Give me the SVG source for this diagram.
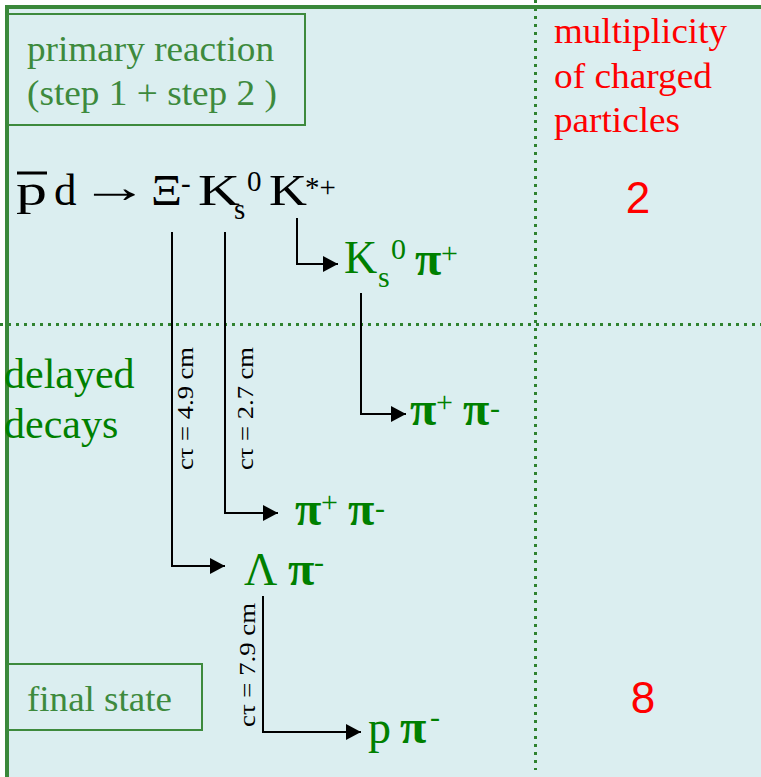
<svg xmlns="http://www.w3.org/2000/svg" width="761" height="777" viewBox="0 0 761 777">
<style>
.lbl{font-family:"Liberation Serif","Times New Roman",serif;fill:#3d8a3d;font-size:36px}
.red{font-family:"Liberation Serif","Times New Roman",serif;fill:#ff0000;font-size:36px}
.num{font-family:"Liberation Sans",Arial,sans-serif;fill:#ff0000;font-size:44px;text-anchor:middle}
.blk{font-family:"Liberation Serif","Times New Roman",serif;fill:#000;font-size:45px}
.bsm{font-family:"Liberation Serif","Times New Roman",serif;fill:#000;font-size:29px}
.grn{font-family:"Liberation Serif","Times New Roman",serif;fill:#008000;font-size:46px}
.gsm{font-family:"Liberation Serif","Times New Roman",serif;fill:#008000;font-size:30px}
.pi{font-family:"Liberation Serif","Times New Roman",serif;fill:#008000;font-size:48px;font-weight:bold}
.ct{font-family:"Liberation Serif","Times New Roman",serif;fill:#000;font-size:24px;text-anchor:middle}
.box{fill:none;stroke:#3d8a3d;stroke-width:2}
.dot{stroke:#2f822f;stroke-width:3;stroke-dasharray:3 5;fill:none;shape-rendering:crispEdges}
.con{fill:none;stroke:#000;stroke-width:2}
</style>
<defs>
<marker id="ah" markerWidth="16" markerHeight="16" refX="15" refY="8" orient="auto" markerUnits="userSpaceOnUse">
<path d="M0,0 L15,8 L0,16 Z" fill="#000"/>
</marker>
</defs>
<rect x="0" y="0" width="761" height="777" fill="#ffffff"/>
<rect x="6" y="7" width="755" height="770" fill="#dbeef0"/>
<g id="grid">
<line class="dot" x1="535.5" y1="0" x2="535.5" y2="770"/>
<line class="dot" x1="0" y1="324.5" x2="761" y2="324.5"/>
</g>
<line x1="5" y1="7" x2="761" y2="7" stroke="#3a883a" stroke-width="4"/>
<line x1="7" y1="5" x2="7" y2="777" stroke="#3a883a" stroke-width="4"/>
<g id="primary-box">
<rect class="box" x="8" y="14" width="297" height="111"/>
<text class="lbl" x="27" y="61" textLength="247" lengthAdjust="spacingAndGlyphs">primary reaction</text>
<text class="lbl" x="27" y="105" textLength="250" lengthAdjust="spacingAndGlyphs">(step 1 + step 2 )</text>
</g>
<g id="multiplicity">
<text class="red" x="554" y="43" textLength="173" lengthAdjust="spacingAndGlyphs">multiplicity</text>
<text class="red" x="554" y="88" textLength="158" lengthAdjust="spacingAndGlyphs">of charged</text>
<text class="red" x="554" y="132" textLength="126" lengthAdjust="spacingAndGlyphs">particles</text>
<text class="num" x="638" y="213">2</text>
<text class="num" x="643" y="713">8</text>
</g>
<g id="reaction">
<line x1="17" y1="173" x2="47" y2="173" stroke="#000" stroke-width="3"/>
<text class="blk" x="16" y="205" textLength="31" lengthAdjust="spacingAndGlyphs">p</text>
<text class="blk" x="54" y="205">d</text>
<text class="blk" x="80" y="202" textLength="69" lengthAdjust="spacingAndGlyphs">→</text>
<text class="blk" x="151" y="205" textLength="31" lengthAdjust="spacingAndGlyphs">Ξ</text>
<text class="bsm" x="181" y="193">-</text>
<text class="blk" x="198" y="205" textLength="42" lengthAdjust="spacingAndGlyphs">K</text>
<text class="bsm" x="234" y="219">s</text>
<text class="bsm" x="247" y="191">0</text>
<text class="blk" x="269" y="205" textLength="38" lengthAdjust="spacingAndGlyphs">K</text>
<text class="bsm" x="305" y="197">*+</text>
</g>
<g id="delayed">
<text class="grn" x="4" y="388" style="font-size:42px">delayed</text>
<text class="grn" x="4" y="438" style="font-size:42px">decays</text>
</g>
<g id="final-box">
<rect class="box" x="8" y="664" width="194" height="66"/>
<text class="lbl" x="27" y="711" textLength="145" lengthAdjust="spacingAndGlyphs">final state</text>
</g>
<g id="ks-pi">
<text class="grn" x="344" y="273">K</text>
<text class="gsm" x="378" y="287">s</text>
<text class="gsm" x="391" y="259">0</text>
<text class="pi" x="415" y="275">π</text>
<text class="gsm" x="441" y="263">+</text>
</g>
<g id="pipi-upper">
<text class="pi" x="410" y="425">π</text>
<text class="gsm" x="436" y="412">+</text>
<text class="pi" x="463" y="425">π</text>
<text class="gsm" x="490" y="418">-</text>
</g>
<g id="pipi-mid">
<text class="pi" x="295" y="525">π</text>
<text class="gsm" x="321" y="512">+</text>
<text class="pi" x="348" y="525">π</text>
<text class="gsm" x="375" y="518">-</text>
</g>
<g id="lambda-pi">
<text class="grn" x="244" y="585">Λ</text>
<text class="pi" x="288" y="585">π</text>
<text class="gsm" x="314" y="572">-</text>
</g>
<g id="p-pi">
<text class="grn" x="368" y="743">p</text>
<text class="pi" x="400" y="743">π</text>
<text class="gsm" x="430" y="727">-</text>
</g>
<g id="connectors">
<polyline class="con" points="172,232 172,566 225,566" marker-end="url(#ah)"/>
<polyline class="con" points="225,232 225,513 278,513" marker-end="url(#ah)"/>
<polyline class="con" points="297,218 297,264 338,264" marker-end="url(#ah)"/>
<polyline class="con" points="361,293 361,414 406,414" marker-end="url(#ah)"/>
<polyline class="con" points="263,596 263,732 361,732" marker-end="url(#ah)"/>
<text class="ct" transform="translate(193,408.5) rotate(-90)" textLength="123" lengthAdjust="spacingAndGlyphs">cτ = 4.9 cm</text>
<text class="ct" transform="translate(253,408.5) rotate(-90)" textLength="123" lengthAdjust="spacingAndGlyphs">cτ = 2.7 cm</text>
<text class="ct" transform="translate(255,665) rotate(-90)" textLength="124" lengthAdjust="spacingAndGlyphs">cτ = 7.9 cm</text>
</g>
</svg>
